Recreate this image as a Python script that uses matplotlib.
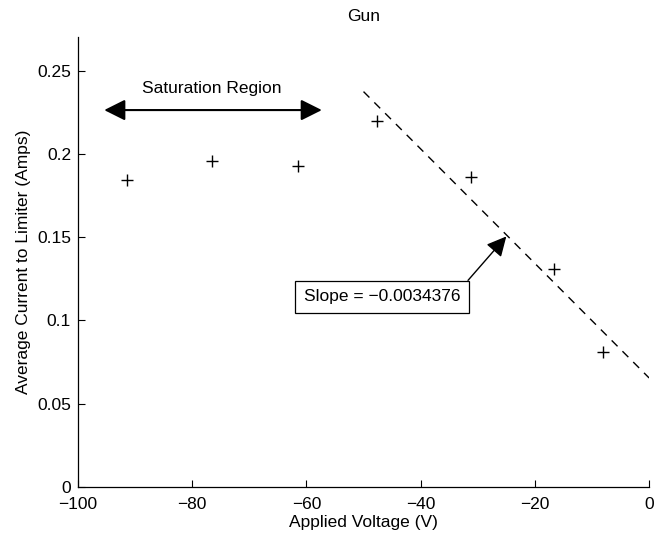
import matplotlib.pyplot as plt
import numpy as np

plt.rcParams['font.family'] = ['Liberation Sans', 'DejaVu Sans']

# measured points (applied voltage vs. average current to limiter)
voltage = [-91.4, -76.5, -61.5, -47.6, -31.2, -16.6, -8.1]
current = [0.1843, 0.1957, 0.1927, 0.2197, 0.186, 0.1309, 0.081]

# linear fit over the non-saturated region
fit_slope = -0.0034376
fit_intercept = 0.0655
fit_range = [-50, 0]

xticks = [-100, -80, -60, -40, -20, 0]
yticks = [0, 0.05, 0.1, 0.15, 0.2, 0.25]
ytick_labels = ['0', '0.05', '0.1', '0.15', '0.2', '0.25']

fs = 12.5

fig = plt.figure(figsize=(6.55, 5.4), dpi=100)
ax = fig.add_axes([0.119, 0.098, 0.872, 0.833])

ax.plot(voltage, current, '+', color='black', markersize=9, markeredgewidth=1.0)

fit_x = np.array(fit_range, dtype=float)
fit_y = fit_slope * fit_x + fit_intercept
ax.plot(fit_x, fit_y, '--', color='black', linewidth=1.0, dashes=(6, 5))

# saturation region double arrow
ax.annotate('', xy=(-95.4, 0.2263), xytext=(-57.3, 0.2263),
            arrowprops=dict(arrowstyle='<|-|>', color='black', lw=1.5,
                            mutation_scale=32, shrinkA=0, shrinkB=0))
ax.text(-76.5, 0.2395, 'Saturation Region', ha='center', va='center', fontsize=fs)

# slope annotation
target_x = -25.0
ax.annotate(f'Slope = \u2212{abs(fit_slope):.7f}',
            xy=(target_x, fit_slope * target_x + fit_intercept - 0.001),
            xytext=(-46.8, 0.1141), ha='center', va='center', fontsize=fs,
            bbox=dict(boxstyle='square,pad=0.5', fc='white', ec='black', lw=0.9),
            arrowprops=dict(arrowstyle='-|>', color='black', lw=1.0,
                            mutation_scale=30, relpos=(1.0, 1.0), shrinkA=0, shrinkB=0))

ax.set_xlim(-100, 0)
ax.set_ylim(0, 0.27)
ax.set_xticks(xticks)
ax.set_xticklabels([str(t).replace('-', '\u2212') for t in xticks])
ax.set_yticks(yticks)
ax.set_yticklabels(ytick_labels)
ax.tick_params(direction='in', length=5, width=0.8, labelsize=fs, colors='black')
ax.tick_params(axis='x', pad=7)
ax.tick_params(axis='y', pad=5)
ax.spines['top'].set_visible(False)
ax.spines['right'].set_visible(False)
for s in ['left', 'bottom']:
    ax.spines[s].set_linewidth(0.9)

ax.set_xlabel('Applied Voltage (V)', fontsize=fs, labelpad=2)
ax.set_ylabel('Average Current to Limiter (Amps)', fontsize=fs, labelpad=4)
ax.set_title('Gun', fontsize=fs, pad=12)

fig.savefig('out.png', dpi=100)
